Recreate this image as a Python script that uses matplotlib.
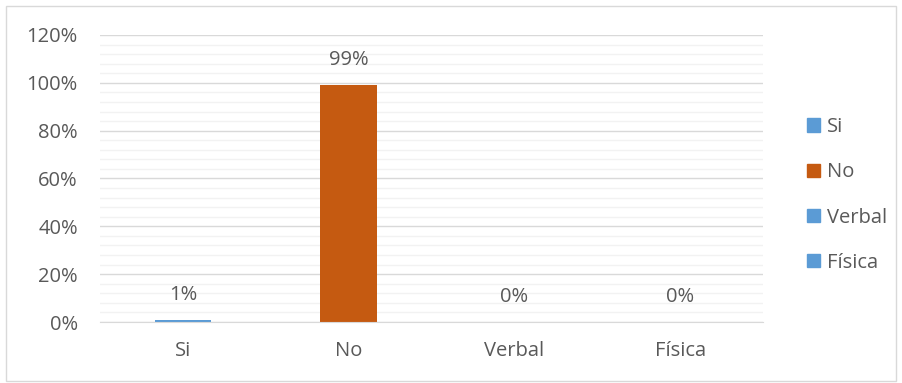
import matplotlib.pyplot as plt
import matplotlib.patches as mpatches
import numpy as np

categories = ["Si", "No", "Verbal", "Física"]
values = [0.01, 0.99, 0.0, 0.0]
labels = ["1%", "99%", "0%", "0%"]
colors = ["#5b9bd5", "#c55a11", "#5b9bd5", "#5b9bd5"]

plt.rcParams['font.family'] = ['Open Sans', 'DejaVu Sans']
text_color = "#595959"
fs = 14.5

fig = plt.figure(figsize=(9.02, 3.83), dpi=100)
ax = fig.add_axes([100 / 902, 1 - 322 / 383, 663 / 902, 287 / 383])

x = np.arange(len(categories))
ax.bar(x, values, width=0.34, color=colors, zorder=3)

for xi, v, lab in zip(x, values, labels):
    ax.annotate(lab, (xi, v), xytext=(0, 18), textcoords="offset points",
                ha="center", va="center", fontsize=fs, color=text_color)

ax.set_xlim(-0.5, 3.5)
ax.set_ylim(0, 1.2)
ax.set_yticks(np.arange(0, 1.21, 0.2))
ax.set_yticklabels([f"{int(round(t * 100))}%" for t in np.arange(0, 1.21, 0.2)])
ax.set_yticks(np.arange(0, 1.2, 0.04), minor=True)
ax.grid(axis="y", which="minor", color="#f2f2f2", linewidth=1, zorder=0)
ax.grid(axis="y", which="major", color="#d9d9d9", linewidth=1, zorder=1)
ax.set_xticks(x)
ax.set_xticklabels(categories)
ax.tick_params(axis="both", which="both", length=0, labelsize=fs, colors=text_color)
ax.tick_params(axis="x", pad=14)
ax.tick_params(axis="y", pad=16)
for s in ["top", "right", "left"]:
    ax.spines[s].set_visible(False)
ax.spines["bottom"].set_color("#d9d9d9")
ax.spines["bottom"].set_zorder(4)

handles = [mpatches.Patch(color=c, label=cat) for c, cat in zip(colors, categories)]
fig.legend(handles=handles, loc="center left", bbox_to_anchor=(797 / 902, 1 - 195 / 383),
           frameon=False, fontsize=fs, handlelength=0.65, handleheight=0.65,
           handletextpad=0.35, labelspacing=1.25, labelcolor=text_color, borderpad=0)

fig.patches.append(mpatches.Rectangle((6 / 902, 2 / 383), 890 / 902, 375 / 383,
                                      transform=fig.transFigure, fill=False,
                                      edgecolor="#d9d9d9", linewidth=1))

fig.savefig("out.png", dpi=100)
